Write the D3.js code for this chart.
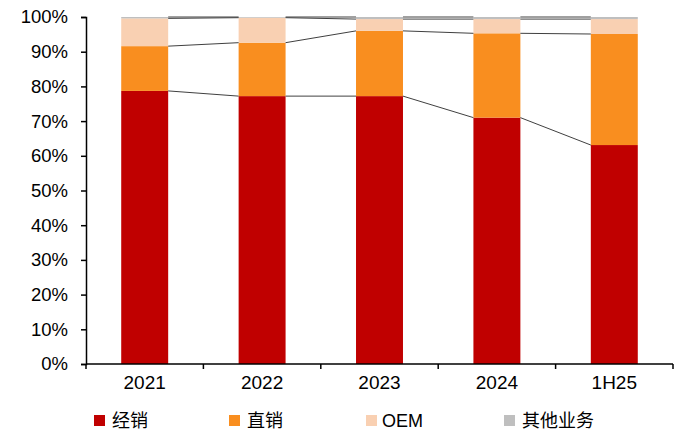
<!DOCTYPE html>
<html>
<head>
<meta charset="utf-8">
<script src="https://cdn.jsdelivr.net/npm/d3@7"></script>
<style>
  body { margin: 0; background: #fff; }
  svg text { font-family: "Liberation Sans", Arial, sans-serif; fill: #000; }
  .cjk { font-family: "Noto Sans CJK SC", sans-serif; }
</style>
</head>
<body>
<svg id="chart" width="681" height="436"></svg>
<script>
// share of revenue by channel (%)
const categories = ["2021", "2022", "2023", "2024", "1H25"];
const seriesNames = ["经销", "直销", "OEM", "其他业务"];
const dealer = [78.7, 77.2, 77.2, 71.0, 63.1];
const direct = [12.9, 15.4, 18.8, 24.3, 32.0];
const oem = [8.0, 7.2, 3.4, 4.1, 4.3];
const other = [0.4, 0.2, 0.6, 0.6, 0.6];
const yTicks = [0, 10, 20, 30, 40, 50, 60, 70, 80, 90, 100];

const colors = ["#C00000", "#F98E1F", "#F9D0B2", "#BFBFBF"];

let rows = categories.map((c, i) => ({
    cat: c,
    "经销": dealer[i],
    "直销": direct[i],
    "OEM": oem[i],
    "其他业务": other[i]
}));

let svg = d3.select("#chart");

let x = d3.scaleBand()
    .domain(categories)
    .range([86, 673])
    .paddingInner(0.6)
    .paddingOuter(0.3);

let y = d3.scaleLinear()
    .domain([0, 100])
    .range([364, 17]);

let stacked = d3.stack().keys(seriesNames)(rows);

// bars
svg.append("g")
    .selectAll("g")
    .data(stacked)
    .enter().append("g")
    .attr("fill", (d, i) => colors[i])
    .selectAll("rect")
    .data(d => d)
    .enter().append("rect")
    .attr("x", d => x(d.data.cat))
    .attr("y", d => y(d[1]))
    .attr("width", x.bandwidth())
    .attr("height", d => y(d[0]) - y(d[1]));

// connector lines between bars
let links = [];
stacked.forEach(layer => {
    for (let i = 0; i < layer.length - 1; i++) {
        links.push({a: layer[i], b: layer[i + 1]});
    }
});
svg.append("g")
    .selectAll("line")
    .data(links)
    .enter().append("line")
    .attr("x1", d => x(d.a.data.cat) + x.bandwidth())
    .attr("y1", d => y(d.a[1]))
    .attr("x2", d => x(d.b.data.cat))
    .attr("y2", d => y(d.b[1]))
    .attr("stroke", "#404040")
    .attr("stroke-width", 1);

// y axis
let yAxis = svg.append("g")
    .attr("transform", "translate(86,0)")
    .call(d3.axisLeft(y)
        .tickValues(yTicks)
        .tickSize(5)
        .tickPadding(13)
        .tickFormat(d => d + "%"));
yAxis.selectAll("path, line").attr("stroke", "#000").attr("stroke-width", 1.5);
yAxis.selectAll("text")
    .attr("font-size", "18.5px")
    .attr("font-family", "Liberation Sans, Arial, sans-serif")
    .attr("fill", "#000");

// x axis: labels at centres, ticks at category boundaries
let step = x.step();
let x0 = x.range()[0];
let bounds = d3.range(categories.length + 1).map(i => x0 + i * step);

let xAxis = svg.append("g");
xAxis.append("line")
    .attr("x1", x0).attr("x2", x.range()[1])
    .attr("y1", y(0)).attr("y2", y(0))
    .attr("stroke", "#000").attr("stroke-width", 1.5);
xAxis.selectAll(".tk")
    .data(bounds)
    .enter().append("line")
    .attr("class", "tk")
    .attr("x1", d => d).attr("x2", d => d)
    .attr("y1", y(0)).attr("y2", y(0) + 5)
    .attr("stroke", "#000").attr("stroke-width", 1.5);
xAxis.selectAll("text")
    .data(categories)
    .enter().append("text")
    .attr("x", d => x(d) + x.bandwidth() / 2)
    .attr("y", 389)
    .attr("text-anchor", "middle")
    .attr("font-size", "19px")
    .text(d => d);

// legend
let legendX = [94, 229, 366, 504];
let legend = svg.append("g")
    .selectAll("g")
    .data(seriesNames)
    .enter().append("g")
    .attr("transform", (d, i) => "translate(" + legendX[i] + ",415)");
legend.append("rect")
    .attr("width", 11)
    .attr("height", 11)
    .attr("fill", (d, i) => colors[i]);
legend.append("text")
    .attr("class", d => d === "OEM" ? "" : "cjk")
    .attr("x", d => d === "OEM" ? 16 : 18)
    .attr("y", 12)
    .attr("font-size", "18px")
    .text(d => d);
</script>
</body>
</html>
